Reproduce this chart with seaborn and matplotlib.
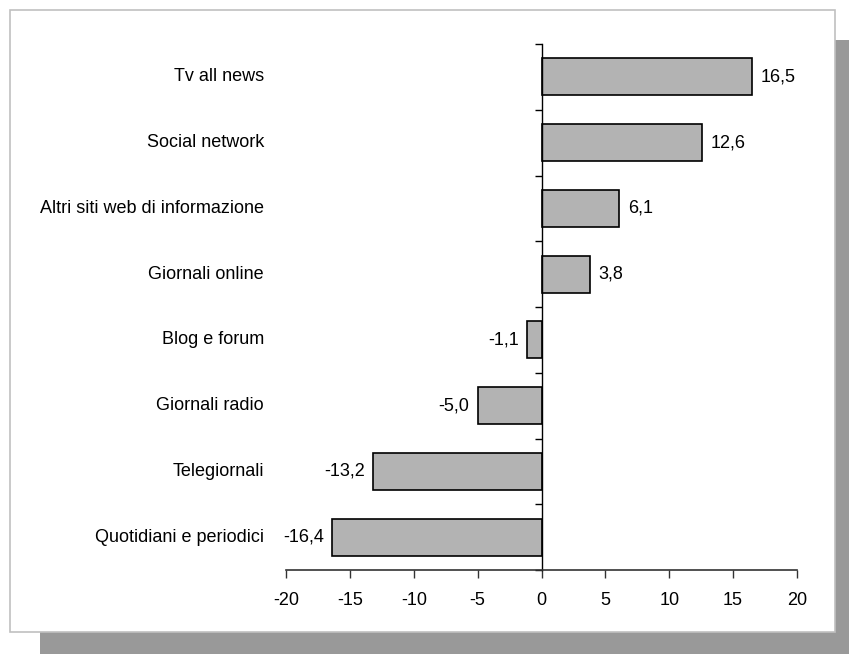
import matplotlib
matplotlib.use("Agg")
import matplotlib.pyplot as plt
import matplotlib.transforms as mtransforms
from matplotlib.patches import Rectangle
import seaborn as sns
import pandas as pd

categories = [
    "Tv all news",
    "Social network",
    "Altri siti web di informazione",
    "Giornali online",
    "Blog e forum",
    "Giornali radio",
    "Telegiornali",
    "Quotidiani e periodici",
]
values = [16.5, 12.6, 6.1, 3.8, -1.1, -5.0, -13.2, -16.4]
x_ticks = [-20, -15, -10, -5, 0, 5, 10, 15, 20]

df = pd.DataFrame({"categoria": categories, "valore": values})

sns.set_style("white")
plt.rcParams["font.family"] = ["Liberation Sans", "DejaVu Sans"]
FS = 13

fig = plt.figure(figsize=(8.49, 6.54), dpi=100)

# drop shadow and white panel behind the chart
fig.patches.append(Rectangle((40 / 849, 0), 1 - 40 / 849, 1 - 40 / 654,
                             transform=fig.transFigure, facecolor="#999999",
                             edgecolor="none", zorder=-3))
fig.patches.append(Rectangle((10 / 849, 1 - 632 / 654), 825 / 849, 622 / 654,
                             transform=fig.transFigure, facecolor="white",
                             edgecolor="#c0c0c0", linewidth=1.2, zorder=-2))

ax = fig.add_axes([286 / 849, 1 - 570 / 654, 511 / 849, 526 / 654])
ax.set_facecolor("none")

sns.barplot(data=df, x="valore", y="categoria", order=categories,
            color="#b3b3b3", edgecolor="black", linewidth=1.2,
            width=0.56, saturation=1, ax=ax)

ax.set_xlim(-20, 20)
ax.set_ylim(len(categories) - 0.5, -0.5)
ax.set_xlabel("")
ax.set_ylabel("")

# value axis along the bottom
ax.set_xticks(x_ticks)
ax.set_xticklabels([str(t) for t in x_ticks], fontsize=FS, color="black")
ax.tick_params(axis="x", direction="out", length=6, width=1, color="#333333",
               pad=10, bottom=True)
for side in ("top", "right"):
    ax.spines[side].set_visible(False)
ax.spines["bottom"].set_color("#333333")
ax.spines["bottom"].set_linewidth(1.2)

# category axis through zero, ticks between categories
ax.spines["left"].set_position(("data", 0))
ax.spines["left"].set_color("black")
ax.spines["left"].set_linewidth(1.0)
ax.set_yticks([i - 0.5 for i in range(len(categories) + 1)])
ax.set_yticklabels([])
ax.tick_params(axis="y", direction="out", length=5, width=1, color="black", left=True)

trans = mtransforms.blended_transform_factory(ax.transAxes, ax.transData)
for i, name in enumerate(categories):
    ax.text(-22 / 511, i, name, transform=trans, ha="right", va="center",
            fontsize=FS, color="black")

# value labels at bar ends
for i, v in enumerate(values):
    label = f"{v:.1f}".replace(".", ",")
    off = 6 if v >= 0 else -6
    ax.annotate(label, (v, i), xytext=(off, 0), textcoords="offset points",
                ha="left" if v >= 0 else "right", va="center",
                fontsize=FS, color="black")

fig.savefig("out.png", dpi=100)
